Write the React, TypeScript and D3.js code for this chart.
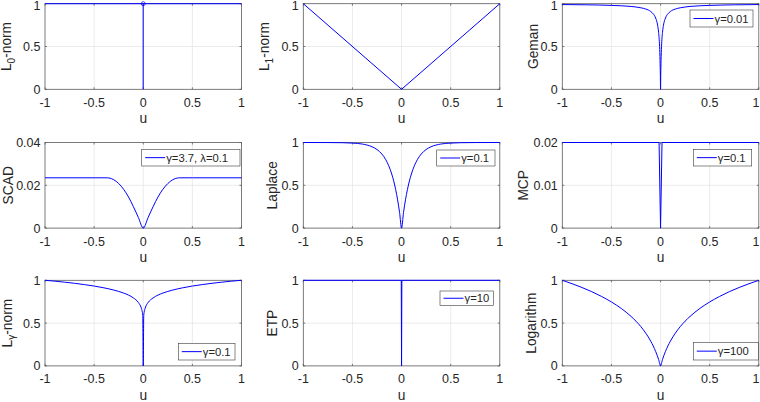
import React from "react";
import * as d3 from "d3";

const xTicks = [-1, -0.5, 0, 0.5, 1];
const xTickLabels = ["-1", "-0.5", "0", "0.5", "1"];

// L0-norm
const l0U = [-1, 1];
const l0Y = [1, 1];
// L1-norm
const l1U = [-1, 0, 1];
const l1Y = [1, 0, 1];
// Geman (gamma = 0.01)
const gemanU = [-1, -0.75, -0.5, -0.3, -0.2, -0.15, -0.1, -0.07, -0.05, -0.03, -0.02, -0.01, -0.005, -0.002, 0, 0.002, 0.005, 0.01, 0.02, 0.03, 0.05, 0.07, 0.1, 0.15, 0.2, 0.3, 0.5, 0.75, 1];
const gemanY = [0.99, 0.987, 0.98, 0.968, 0.952, 0.9375, 0.909, 0.875, 0.833, 0.75, 0.667, 0.5, 0.333, 0.167, 0, 0.167, 0.333, 0.5, 0.667, 0.75, 0.833, 0.875, 0.909, 0.9375, 0.952, 0.968, 0.98, 0.987, 0.99];
// SCAD (gamma = 3.7, lambda = 0.1)
const scadU = [-1, -0.5, -0.37, -0.35, -0.3, -0.25, -0.2, -0.15, -0.1, -0.05, 0, 0.05, 0.1, 0.15, 0.2, 0.25, 0.3, 0.35, 0.37, 0.5, 1];
const scadY = [0.0235, 0.0235, 0.0235, 0.02343, 0.02259, 0.02083, 0.01815, 0.01454, 0.01, 0.005, 0, 0.005, 0.01, 0.01454, 0.01815, 0.02083, 0.02259, 0.02343, 0.0235, 0.0235, 0.0235];
// Laplace (gamma = 0.1)
const laplaceU = [-1, -0.75, -0.6, -0.5, -0.4, -0.3, -0.25, -0.2, -0.16, -0.13, -0.1, -0.08, -0.06, -0.04, -0.02, 0, 0.02, 0.04, 0.06, 0.08, 0.1, 0.13, 0.16, 0.2, 0.25, 0.3, 0.4, 0.5, 0.6, 0.75, 1];
const laplaceY = [1, 0.9994, 0.9975, 0.993, 0.982, 0.95, 0.918, 0.865, 0.798, 0.727, 0.632, 0.551, 0.451, 0.33, 0.181, 0, 0.181, 0.33, 0.451, 0.551, 0.632, 0.727, 0.798, 0.865, 0.918, 0.95, 0.982, 0.993, 0.9975, 0.9994, 1];
// MCP (gamma = 0.1)
const mcpU = [-1, -0.015, 0, 0.015, 1];
const mcpY = [0.02, 0.02, 0, 0.02, 0.02];
// L_gamma-norm (gamma = 0.1)
const lgU = [-1, -0.9, -0.8, -0.7, -0.6, -0.5, -0.4, -0.3, -0.2, -0.15, -0.1, -0.05, -0.02, -0.01, -0.005, 0, 0.005, 0.01, 0.02, 0.05, 0.1, 0.15, 0.2, 0.3, 0.4, 0.5, 0.6, 0.7, 0.8, 0.9, 1];
const lgY = [1, 0.99, 0.978, 0.965, 0.95, 0.933, 0.912, 0.886, 0.851, 0.827, 0.794, 0.741, 0.676, 0.631, 0.589, 0, 0.589, 0.631, 0.676, 0.741, 0.794, 0.827, 0.851, 0.886, 0.912, 0.933, 0.95, 0.965, 0.978, 0.99, 1];
// ETP (gamma = 10)
const etpU = [-1, -0.003, 0, 0.003, 1];
const etpY = [1, 1, 0, 1, 1];
// Logarithm (gamma = 100)
const logU = [-1, -0.9, -0.8, -0.7, -0.6, -0.5, -0.4, -0.3, -0.2, -0.15, -0.1, -0.05, -0.02, 0, 0.02, 0.05, 0.1, 0.15, 0.2, 0.3, 0.4, 0.5, 0.6, 0.7, 0.8, 0.9, 1];
const logY = [1, 0.96, 0.916, 0.867, 0.811, 0.747, 0.671, 0.578, 0.458, 0.382, 0.289, 0.169, 0.076, 0, 0.076, 0.169, 0.289, 0.382, 0.458, 0.578, 0.671, 0.747, 0.811, 0.867, 0.916, 0.96, 1];

const yTicks01 = [0, 0.5, 1];
const yTickLabels01 = ["0", "0.5", "1"];
const yTicksScad = [0, 0.02, 0.04];
const yTickLabelsScad = ["0", "0.02", "0.04"];
const yTicksMcp = [0, 0.01, 0.02];
const yTickLabelsMcp = ["0", "0.01", "0.02"];

const legendGeman = "γ=0.01";
const legendScad = "γ=3.7, λ=0.1";
const legendLaplace = "γ=0.1";
const legendMcp = "γ=0.1";
const legendLg = "γ=0.1";
const legendEtp = "γ=10";
const legendLog = "γ=100";

const colLeft = [45, 303.3, 562.3];
const colWidth = 196.5;
const rowTop = [3.7, 142.5, 280.3];
const rowHeight = 85.6;

const FONT = "'Liberation Sans', Arial, Helvetica, sans-serif";
const BLUE = "#0000ff";
const TXT = "#262626";

type Panel = {
  row: number;
  col: number;
  u: number[];
  y: number[];
  yMax: number;
  yTicks: number[];
  yTickLabels: string[];
  label: string;
  sub?: string;
  labelGap: number;
  legend?: { text: string; x: number; y: number; w: number; h: number };
  l0?: boolean;
  linear?: boolean;
};

const panels: Panel[] = [
  { row: 0, col: 0, u: l0U, y: l0Y, yMax: 1, yTicks: yTicks01, yTickLabels: yTickLabels01, label: "L", sub: "0", labelGap: 34, l0: true, linear: true },
  { row: 0, col: 1, u: l1U, y: l1Y, yMax: 1, yTicks: yTicks01, yTickLabels: yTickLabels01, label: "L", sub: "1", labelGap: 34, linear: true },
  { row: 0, col: 2, u: gemanU, y: gemanY, yMax: 1, yTicks: yTicks01, yTickLabels: yTickLabels01, label: "Geman", labelGap: 24.8, legend: { text: legendGeman, x: 127.7, y: 6.3, w: 63, h: 17 } },
  { row: 1, col: 0, u: scadU, y: scadY, yMax: 0.04, yTicks: yTicksScad, yTickLabels: yTickLabelsScad, label: "SCAD", labelGap: 31.7, legend: { text: legendScad, x: 96.7, y: 6.8, w: 98.3, h: 16.7 } },
  { row: 1, col: 1, u: laplaceU, y: laplaceY, yMax: 1, yTicks: yTicks01, yTickLabels: yTickLabels01, label: "Laplace", labelGap: 26.6, legend: { text: legendLaplace, x: 133.4, y: 7.5, w: 58.3, h: 16 } },
  { row: 1, col: 2, u: mcpU, y: mcpY, yMax: 0.02, yTicks: yTicksMcp, yTickLabels: yTickLabelsMcp, label: "MCP", labelGap: 34, legend: { text: legendMcp, x: 131, y: 6.8, w: 58.4, h: 16.7 }, linear: true },
  { row: 2, col: 0, u: lgU, y: lgY, yMax: 1, yTicks: yTicks01, yTickLabels: yTickLabels01, label: "L", sub: "γ", labelGap: 33.5, legend: { text: legendLg, x: 133.3, y: 63, w: 56.7, h: 16.7 } },
  { row: 2, col: 1, u: etpU, y: etpY, yMax: 1, yTicks: yTicks01, yTickLabels: yTickLabels01, label: "ETP", labelGap: 26.6, legend: { text: legendEtp, x: 136.7, y: 10.7, w: 53.3, h: 14.5 }, linear: true },
  { row: 2, col: 2, u: logU, y: logY, yMax: 1, yTicks: yTicks01, yTickLabels: yTickLabels01, label: "Logarithm", labelGap: 26, legend: { text: legendLog, x: 131, y: 62, w: 65, h: 17.7 } },
];

function PanelView({ p }: { p: Panel }) {
  const left = colLeft[p.col];
  const top = rowTop[p.row];
  const x = d3.scaleLinear().domain([-1, 1]).range([left, left + colWidth]);
  const y = d3.scaleLinear().domain([0, p.yMax]).range([top + rowHeight, top]);
  const bottom = top + rowHeight;
  const right = left + colWidth;
  const pts: [number, number][] = p.u.map((u, i) => [u, p.y[i]]);
  const line = d3
    .line<[number, number]>()
    .x((d) => x(d[0]))
    .y((d) => y(d[1]))
    .curve(p.linear ? d3.curveLinear : d3.curveMonotoneX);
  const midY = (top + bottom) / 2;
  const lx = left - p.labelGap;
  return (
    <g>
      {xTicks.slice(1, -1).map((t) => (
        <line key={"gx" + t} x1={x(t)} x2={x(t)} y1={top} y2={bottom} stroke="#e3e3e3" strokeWidth={0.7} />
      ))}
      {p.yTicks.slice(1, -1).map((t) => (
        <line key={"gy" + t} x1={left} x2={right} y1={y(t)} y2={y(t)} stroke="#e3e3e3" strokeWidth={0.7} />
      ))}
      <rect x={left} y={top} width={colWidth} height={rowHeight} fill="none" stroke="#5a5a5a" strokeWidth={0.8} />
      {xTicks.map((t) => (
        <g key={"tx" + t}>
          <line x1={x(t)} x2={x(t)} y1={bottom} y2={bottom - 2} stroke="#5a5a5a" strokeWidth={0.8} />
          <line x1={x(t)} x2={x(t)} y1={top} y2={top + 2} stroke="#5a5a5a" strokeWidth={0.8} />
        </g>
      ))}
      {p.yTicks.map((t) => (
        <g key={"ty" + t}>
          <line x1={left} x2={left + 2} y1={y(t)} y2={y(t)} stroke="#5a5a5a" strokeWidth={0.8} />
          <line x1={right} x2={right - 2} y1={y(t)} y2={y(t)} stroke="#5a5a5a" strokeWidth={0.8} />
        </g>
      ))}
      <path d={line(pts) || ""} fill="none" stroke={BLUE} strokeWidth={1} />
      {p.l0 && (
        <g>
          <line x1={x(0)} x2={x(0)} y1={y(0)} y2={y(1)} stroke={BLUE} strokeOpacity={0.75} strokeWidth={1.4} />
          <circle cx={x(0)} cy={y(1)} r={2} fill="none" stroke={BLUE} strokeOpacity={0.8} strokeWidth={0.9} />
        </g>
      )}
      {xTicks.map((t, i) => {
        const isLast = i === xTicks.length - 1 && x(t) + 4 > 760;
        return (
          <text
            key={"xl" + t}
            x={isLast ? 759.5 : x(t)}
            y={bottom + 17.4}
            textAnchor={isLast ? "end" : "middle"}
            fontSize={12.5}
            fill={TXT}
            fontFamily={FONT}
          >
            {xTickLabels[i]}
          </text>
        );
      })}
      {p.yTicks.map((t, i) => (
        <text key={"yl" + t} x={left - 4.5} y={Math.max(y(t) + 4.5, 9.6)} textAnchor="end" fontSize={12.5} fill={TXT} fontFamily={FONT}>
          {p.yTickLabels[i]}
        </text>
      ))}
      <text x={(left + right) / 2} y={bottom + 34} textAnchor="middle" fontSize={13.75} fill={TXT} fontFamily={FONT}>
        u
      </text>
      <text transform={`translate(${lx},${midY}) rotate(-90)`} textAnchor="middle" fontSize={13.75} fill={TXT} fontFamily={FONT}>
        {p.sub ? (
          <>
            {p.label}
            <tspan fontSize={10} dy={3.5}>{p.sub}</tspan>
            <tspan dy={-3.5}>-norm</tspan>
          </>
        ) : (
          p.label
        )}
      </text>
      {p.legend && (
        <g>
          <rect x={left + p.legend.x} y={top + p.legend.y} width={p.legend.w} height={p.legend.h} fill="#fff" stroke="#3a3a3a" strokeWidth={0.6} />
          <line
            x1={left + p.legend.x + 3.5}
            x2={left + p.legend.x + 23.5}
            y1={top + p.legend.y + p.legend.h / 2}
            y2={top + p.legend.y + p.legend.h / 2}
            stroke={BLUE}
            strokeWidth={1}
          />
          <text x={left + p.legend.x + 24.5} y={top + p.legend.y + p.legend.h / 2 + 4} fontSize={11.25} fill={TXT} fontFamily={FONT}>
            {p.legend.text}
          </text>
        </g>
      )}
    </g>
  );
}

export default function App() {
  return (
    <svg width={760} height={402} style={{ position: "absolute", left: 0, top: 0, background: "#fff" }}>
      <rect x={0} y={0} width={760} height={402} fill="#fff" />
      {panels.map((p, i) => (
        <PanelView key={i} p={p} />
      ))}
    </svg>
  );
}
